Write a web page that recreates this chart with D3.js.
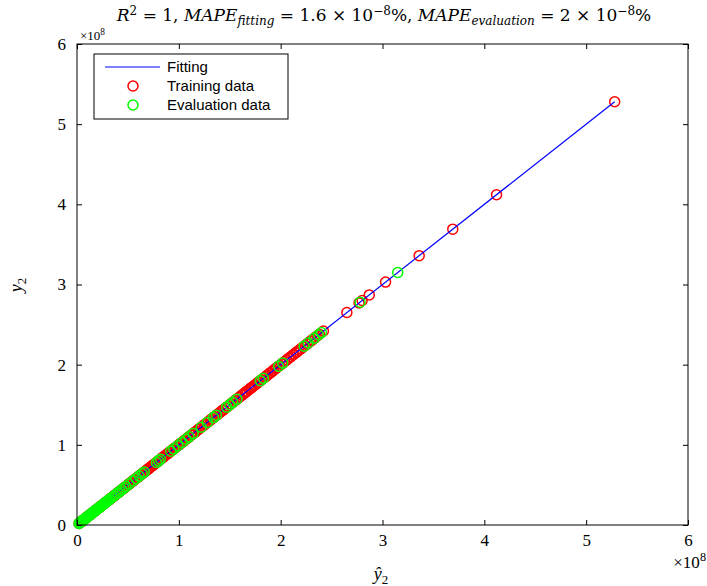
<!DOCTYPE html>
<html>
<head>
<meta charset="utf-8">
<script src="https://cdn.jsdelivr.net/npm/d3@7"></script>
<style>
body { margin: 0; background: #fff; }
svg { display: block; }
</style>
</head>
<body>
<svg id="chart" width="707" height="586"></svg>
<script>
// values in units of 1e8; y equals y-hat to plotting precision (R^2 = 1)
var trainPred = [0.02,0.03,0.04,0.05,0.06,0.07,0.08,0.09,0.10,0.11,0.12,0.13,0.14,0.15,0.16,0.17,0.18,0.19,0.20,0.21,
	0.22,0.23,0.24,0.25,0.26,0.27,0.28,0.29,0.30,0.31,0.32,0.33,0.34,0.35,0.36,0.37,0.38,0.39,0.40,0.41,
	0.42,0.43,0.44,0.45,0.46,0.47,0.48,0.49,0.50,0.51,0.52,0.53,0.54,0.55,0.56,0.57,0.58,0.59,0.60,0.61,
	0.62,0.63,0.64,0.65,0.66,0.67,0.68,0.69,0.70,0.71,0.72,0.73,0.74,0.75,0.76,0.77,0.78,0.79,0.80,0.81,
	0.83,0.84,0.85,0.86,0.87,0.89,0.90,0.91,0.92,0.94,0.95,0.96,0.97,0.99,1.00,1.01,1.02,1.04,1.05,1.07,
	1.08,1.09,1.10,1.12,1.13,1.15,1.16,1.17,1.19,1.20,1.22,1.23,1.25,1.26,1.28,1.29,1.31,1.32,1.34,1.35,
	1.37,1.38,1.40,1.41,1.43,1.44,1.46,1.48,1.50,1.51,1.53,1.54,1.56,1.57,1.59,1.60,1.62,1.63,1.65,1.66,
	1.67,1.69,1.70,1.71,1.72,1.74,1.75,1.77,1.78,1.80,1.81,1.83,1.84,1.86,1.87,1.89,1.90,1.92,1.93,1.95,
	1.96,1.98,1.99,2.01,2.02,2.04,2.06,2.08,2.10,2.12,2.13,2.15,2.16,2.18,2.20,2.22,2.24,2.26,2.27,2.29,
	2.31,2.33,2.34,2.36,2.38,2.42,2.65,2.77,2.80,2.87,3.03,3.36,3.69,4.12,5.28];
var trainActual = trainPred.slice();
var evalPred = [0.02,0.03,0.04,0.05,0.06,0.07,0.08,0.09,0.10,0.11,0.12,0.13,0.14,0.15,0.16,0.17,0.18,0.19,0.20,0.21,
	0.22,0.23,0.24,0.25,0.26,0.27,0.28,0.29,0.30,0.31,0.32,0.34,0.36,0.38,0.40,0.42,0.44,0.46,0.48,0.51,
	0.55,0.58,0.61,0.64,0.66,0.78,0.80,0.82,0.92,0.95,0.99,1.03,1.07,1.10,1.14,1.22,1.28,1.34,1.37,1.47,
	1.50,1.53,1.57,1.80,1.83,1.98,2.02,2.23,2.27,2.33,2.37,2.40,2.78,3.15];
var evalActual = evalPred.slice();
var fitX = [0.02, 5.28];
var fitY = [0.02, 5.28];
var ticks = [0, 1, 2, 3, 4, 5, 6];

var svg = d3.select("#chart");
var serif = "'Liberation Serif', 'DejaVu Serif', serif";
var titleFont = "'DejaVu Serif', serif";
var sans = "'Liberation Sans', Arial, sans-serif";

var x = d3.scaleLinear()
	.domain([0, 6])
	.range([77, 688]);
var y = d3.scaleLinear()
	.domain([0, 6])
	.range([525, 44]);

// marks
var plot = svg.append("g");
plot.selectAll("circle.train")
	.data(trainPred)
	.enter().append("circle")
	.attr("class", "train")
	.attr("cx", function(d) { return x(d); })
	.attr("cy", function(d, i) { return y(trainActual[i]); })
	.attr("r", 5)
	.attr("fill", "none")
	.attr("stroke", "#ff0000")
	.attr("stroke-width", 1.5);

var line = d3.line()
	.x(function(d) { return x(d[0]); })
	.y(function(d) { return y(d[1]); });
plot.append("path")
	.attr("d", line(fitX.map(function(v, i) { return [v, fitY[i]]; })))
	.attr("stroke", "#0000ff")
	.attr("stroke-width", 1.2)
	.attr("fill", "none");

plot.selectAll("circle.eval")
	.data(evalPred)
	.enter().append("circle")
	.attr("class", "eval")
	.attr("cx", function(d) { return x(d); })
	.attr("cy", function(d, i) { return y(evalActual[i]); })
	.attr("r", 5)
	.attr("fill", "none")
	.attr("stroke", "#00ff00")
	.attr("stroke-width", 1.5);

// axes box with inward ticks
svg.append("rect")
	.attr("x", x(0)).attr("y", y(6))
	.attr("width", x(6) - x(0)).attr("height", y(0) - y(6))
	.attr("fill", "none").attr("stroke", "#000").attr("stroke-width", 1);

var axis;
axis = d3.axisBottom(x).tickValues(ticks).tickFormat(d3.format("d"))
	.tickSizeInner(-5).tickSizeOuter(0).tickPadding(9);
var gx = svg.append("g").attr("transform", "translate(0," + y(0) + ")").call(axis);
axis = d3.axisTop(x).tickValues(ticks).tickSizeInner(-5).tickSizeOuter(0).tickFormat("");
var gxt = svg.append("g").attr("transform", "translate(0," + y(6) + ")").call(axis);
axis = d3.axisLeft(y).tickValues(ticks).tickFormat(d3.format("d"))
	.tickSizeInner(-5).tickSizeOuter(0).tickPadding(11);
var gy = svg.append("g").attr("transform", "translate(" + x(0) + ",0)").call(axis);
axis = d3.axisRight(y).tickValues(ticks).tickSizeInner(-5).tickSizeOuter(0).tickFormat("");
var gyr = svg.append("g").attr("transform", "translate(" + x(6) + ",0)").call(axis);

[gx, gxt, gy, gyr].forEach(function(g) {
	g.select(".domain").remove();
	g.selectAll("line").attr("stroke", "#000");
	g.selectAll("text").attr("font-family", serif).attr("font-size", 17).attr("fill", "#000");
});

// exponent labels
function expLabel(px, py, anchor, size) {
	var t = svg.append("text").attr("x", px).attr("y", py)
		.attr("font-family", serif).attr("font-size", size).attr("text-anchor", anchor);
	t.append("tspan").text("\u00d710");
	t.append("tspan").attr("dy", -size * 0.4).attr("font-size", size * 0.72).text("8");
}
expLabel(80, 40, "start", 13);
expLabel(706, 568, "end", 17);

// axis labels
var xl = svg.append("text").attr("x", 381).attr("y", 580)
	.attr("font-family", serif).attr("font-size", 18).attr("text-anchor", "middle");
xl.append("tspan").attr("font-style", "italic").text("\u0177");
xl.append("tspan").attr("dy", 4).attr("font-size", 13).text("2");

var yl = svg.append("text").attr("transform", "translate(22,285) rotate(-90)")
	.attr("font-family", serif).attr("font-size", 18).attr("text-anchor", "middle");
yl.append("tspan").attr("font-style", "italic").text("y");
yl.append("tspan").attr("dy", 4).attr("font-size", 13).text("2");

// title: [text, italic, vertical shift, small]
var titleParts = [
	["R", true, 0, false], ["2", false, -6, true], [" = 1, ", false, 6, false],
	["MAPE", true, 0, false], ["fitting", true, 4, true],
	[" = 1.6 \u00d7 10", false, -4, false], ["\u22128", false, -6, true], ["%, ", false, 6, false],
	["MAPE", true, 0, false], ["evaluation", true, 4, true],
	[" = 2 \u00d7 10", false, -4, false], ["\u22128", false, -6, true], ["%", false, 6, false]
];
var title = svg.append("text").attr("x", 384).attr("y", 21)
	.attr("font-family", titleFont).attr("font-size", 17).attr("text-anchor", "middle");
titleParts.forEach(function(p) {
	title.append("tspan")
		.attr("dy", p[2])
		.attr("font-style", p[1] ? "italic" : "normal")
		.attr("font-size", p[3] ? 12 : 17)
		.text(p[0]);
});

// legend
var lg = svg.append("g");
lg.append("rect").attr("x", 94).attr("y", 54).attr("width", 194).attr("height", 65)
	.attr("fill", "#fff").attr("stroke", "#000").attr("stroke-width", 1);
lg.append("line").attr("x1", 105).attr("x2", 160).attr("y1", 67).attr("y2", 67)
	.attr("stroke", "#0000ff").attr("stroke-width", 1.2);
lg.append("circle").attr("cx", 133).attr("cy", 86).attr("r", 5)
	.attr("fill", "none").attr("stroke", "#ff0000").attr("stroke-width", 1.5);
lg.append("circle").attr("cx", 133).attr("cy", 105).attr("r", 5)
	.attr("fill", "none").attr("stroke", "#00ff00").attr("stroke-width", 1.5);
["Fitting", "Training data", "Evaluation data"].forEach(function(s, i) {
	lg.append("text").attr("x", 167).attr("y", 72 + i * 19)
		.attr("font-family", sans).attr("font-size", 15).text(s);
});
</script>
</body>
</html>
